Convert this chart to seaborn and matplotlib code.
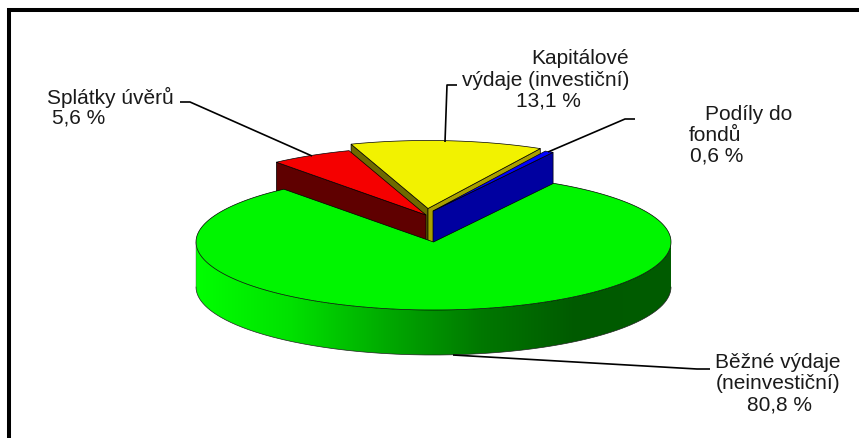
import numpy as np
import seaborn as sns
import matplotlib
matplotlib.use('Agg')
import matplotlib.pyplot as plt
from matplotlib.patches import Polygon

slices = ['Kapitálové výdaje (investiční)', 'Podíly do fondů', 'Běžné výdaje (neinvestiční)', 'Splátky úvěrů']
shares = [13.1, 0.6, 80.8, 5.6]
top_colors = ['#f2f200', '#0000ff', '#00f500', '#f50000']

# pixel layout, y goes down
apex = [(428, 209.5), (433, 212), (433.5, 243), (426, 216)]
rx, ry, depth = 237.5, 68, 45
start = 108.9

sns.set_theme(style='white')
plt.rcParams['font.family'] = ['Liberation Sans', 'DejaVu Sans']

fig = plt.figure(figsize=(8.59, 4.39), dpi=100)
ax = fig.add_axes([0, 0, 1, 1])

# slice limits, clockwise from the first one
ends = start - np.cumsum(shares) / np.sum(shares) * 360
starts = np.r_[start, ends[:-1]]


def rim(i, t):
    t = np.radians(t)
    return apex[i][0] + rx * np.cos(t), apex[i][1] - ry * np.sin(t)


def cut_face(i, t, color):
    x, y = rim(i, t)
    ax.fill([apex[i][0], x, x, apex[i][0]],
            [apex[i][1], y, y + depth, apex[i][1] + depth],
            facecolor=color, edgecolor='black', lw=0.5)


def top_face(i):
    t = np.linspace(starts[i], ends[i], 300)
    x, y = rim(i, t)
    ax.fill(np.r_[apex[i][0], x], np.r_[apex[i][1], y],
            facecolor=top_colors[i], edgecolor='black', lw=0.5)


# yellow at the back
cut_face(0, starts[0], '#6e6a00')
cut_face(0, ends[0], '#a8a000')
top_face(0)

# red
cut_face(3, starts[3], '#5f0000')
top_face(3)

# blue
cut_face(1, ends[1], '#0000a0')
top_face(1)

# green rim with the shading running left to right
shade = sns.blend_palette(['#00ff00', '#00e100', '#00aa00', '#007800', '#005a00', '#005c00'], n_colors=256)
tt = np.linspace(180, 360, 361)
xx, yy = rim(2, tt)
band = Polygon(np.c_[np.r_[xx, xx[::-1]], np.r_[yy, yy[::-1] + depth]], closed=True,
               facecolor='none', edgecolor='none', transform=ax.transData)
ax.add_patch(band)
im = ax.imshow(np.array(shade)[None, :, :], extent=[xx[0], xx[-1], yy[0] + depth + ry, yy[0]],
               aspect='auto', interpolation='bilinear')
im.set_clip_path(band)
ax.plot(xx, yy + depth, color='#222222', lw=0.5)
ax.plot([xx[0], xx[0]], [yy[0], yy[0] + depth], color='#555555', lw=0.3)
top_face(2)

ax.set_xlim(0, 859)
ax.set_ylim(439, 0)
ax.axis('off')

# leader lines
leaders = [
    ([180, 190, 312], [103, 103, 157]),
    ([457, 447, 445], [86, 86, 143]),
    ([635, 625, 548], [120, 120, 153]),
    ([710, 697, 453], [370, 370, 356]),
]
for lx, ly in leaders:
    ax.plot(lx, ly, color='black', lw=1.2, solid_capstyle='butt')

# labels, one entry per line of text
label_lines = ['Splátky úvěrů', '5,6 %', 'Kapitálové', 'výdaje (investiční)', '13,1 %',
               'Podíly do', 'fondů', '0,6 %', 'Běžné výdaje', '(neinvestiční)', '80,8 %']
label_x = [47, 52, 531, 462, 516, 705, 689, 690, 715, 716, 747]
label_y = [97, 118, 59, 80, 101, 115, 136, 156, 363, 384, 405]
for s, lx, ly in zip(label_lines, label_x, label_y):
    ax.text(lx, ly, s, fontsize=15, color='#1a1a1a', ha='left', va='center')

# frame, open at right and bottom
ax.plot([9.3, 9.3, 859], [439, 10.8, 10.8], color='black', lw=2.9,
        solid_joinstyle='miter', solid_capstyle='butt', clip_on=False)

fig.savefig('out.png', dpi=100)
